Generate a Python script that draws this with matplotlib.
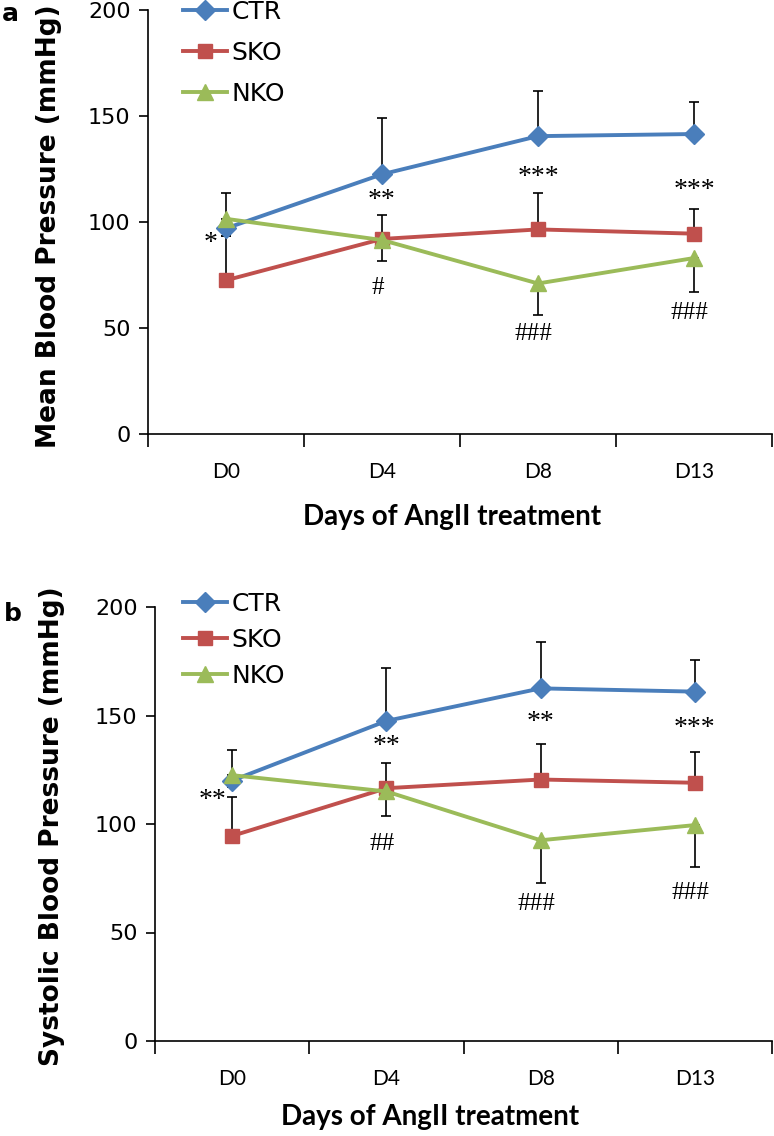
import matplotlib
matplotlib.use("Agg")
import matplotlib.pyplot as plt
from matplotlib.lines import Line2D

plt.rcParams["font.family"] = "DejaVu Sans"

# Categories on the x axis
days = ["D0", "D4", "D8", "D13"]

# Panel a: mean blood pressure (mmHg) and SEM
mean_ctr = [97, 122.5, 140.5, 141.5]
mean_ctr_err = [16.5, 26.5, 21.5, 15]
mean_sko = [72.5, 92, 96.5, 94.5]
mean_sko_err = [21, 11.5, 17, 11.5]
mean_nko = [101.5, 91.5, 71, 83]
mean_nko_err = [8, 10, 15, 16]

# Panel b: systolic blood pressure (mmHg) and SEM
sys_ctr = [120, 147.5, 162.5, 161]
sys_ctr_err = [14, 24.5, 21.5, 14.5]
sys_sko = [94.5, 116.5, 120.5, 119]
sys_sko_err = [18, 11.5, 16.5, 14]
sys_nko = [122.5, 115, 92.5, 99.5]
sys_nko_err = [5.5, 11.5, 19.5, 19.5]

# Significance marks and their y values (D0..D13 for stars, D4..D13 for hashes)
stars_a = ["*", "**", "***", "***"]
stars_a_y = [90, 110, 121, 115]
hash_a = ["#", "###", "###"]
hash_a_y = [69, 47, 57]
stars_b = ["**", "**", "**", "***"]
stars_b_y = [111, 135.5, 147, 144]
hash_b = ["##", "###", "###"]
hash_b_y = [91, 63, 68]

colours = {"CTR": "#4a7ebb", "SKO": "#c0504d", "NKO": "#9bbb59"}
markers = {"CTR": "D", "SKO": "s", "NKO": "^"}
msizes = {"CTR": 10.5, "SKO": 10, "NKO": 11.5}

fig = plt.figure(figsize=(7.74, 11.36), dpi=100)

ax_a = fig.add_axes([148 / 774, 1 - 434 / 1136, (772 - 148) / 774, 424 / 1136])
ax_b = fig.add_axes([155 / 774, 1 - 1041 / 1136, (772 - 155) / 774, 434 / 1136])


def draw_panel(ax, ctr, ctr_err, sko, sko_err, nko, nko_err, ylabel):
    x = list(range(len(days)))
    zero = [0] * len(days)

    # Error bars: CTR and SKO upward, NKO downward
    bar_kw = dict(fmt="none", ecolor="black", elinewidth=1.2,
                  capsize=3.8, capthick=1.2, zorder=2)
    ax.errorbar(x, ctr, yerr=[zero, ctr_err], **bar_kw)
    ax.errorbar(x, sko, yerr=[zero, sko_err], **bar_kw)
    ax.errorbar(x, nko, yerr=[nko_err, zero], **bar_kw)

    for name, vals in (("CTR", ctr), ("SKO", sko), ("NKO", nko)):
        ax.plot(x, vals, color=colours[name], lw=2.8, marker=markers[name],
                ms=msizes[name], mec=colours[name], zorder=3)

    ax.set_xlim(-0.5, 3.5)
    ax.set_ylim(0, 200)
    ax.set_yticks(range(0, 201, 50))
    ax.set_xticks(x)
    ax.set_xticklabels(days, family="Lato", fontsize=15)
    ax.set_xticks([i - 0.5 for i in range(len(days) + 1)], minor=True)
    ax.tick_params(axis="x", which="major", length=0, pad=20)
    ax.tick_params(axis="x", which="minor", length=9, width=1.2,
                   direction="out")
    ax.tick_params(axis="y", length=6.5, width=1.2, direction="out",
                   labelsize=16, pad=6)

    for side in ("top", "right"):
        ax.spines[side].set_visible(False)
    for side in ("left", "bottom"):
        ax.spines[side].set_linewidth(1.2)

    ax.set_ylabel(ylabel, fontsize=19, fontweight="bold")


draw_panel(ax_a, mean_ctr, mean_ctr_err, mean_sko, mean_sko_err,
           mean_nko, mean_nko_err, "Mean Blood Pressure (mmHg)")
draw_panel(ax_b, sys_ctr, sys_ctr_err, sys_sko, sys_sko_err,
           sys_nko, sys_nko_err, "Systolic Blood Pressure (mmHg)")

ax_a.yaxis.set_label_coords(-0.138, 0.49)
ax_b.yaxis.set_label_coords(-0.146, 0.495)

# x labels
fig.text(452 / 774, 1 - 517 / 1136, "Days of AngII treatment", family="Lato",
         fontweight="bold", fontsize=20, ha="center", va="center")
fig.text(430 / 774, 1 - 1117 / 1136, "Days of AngII treatment", family="Lato",
         fontweight="bold", fontsize=20, ha="center", va="center")

# Significance marks
star_kw = dict(family="Liberation Serif", fontsize=20, ha="center", va="center")
hash_kw = dict(family="Liberation Serif", fontsize=18, ha="center", va="center")
ax_a.text(-0.1, stars_a_y[0], stars_a[0], **star_kw)
for i in range(1, 4):
    ax_a.text(i, stars_a_y[i], stars_a[i], **star_kw)
for i in range(1, 4):
    ax_a.text(i - 0.03, hash_a_y[i - 1], hash_a[i - 1], **hash_kw)
ax_b.text(-0.13, stars_b_y[0], stars_b[0], **star_kw)
for i in range(1, 4):
    ax_b.text(i, stars_b_y[i], stars_b[i], **star_kw)
for i in range(1, 4):
    ax_b.text(i - 0.03, hash_b_y[i - 1], hash_b[i - 1], **hash_kw)

# Legends
handles = [Line2D([], [], color=colours[n], lw=2.8, marker=markers[n],
                  ms=msizes[n], mec=colours[n]) for n in colours]
leg_kw = dict(loc="upper left", frameon=False, fontsize=18, numpoints=1,
              handlelength=1.75, handletextpad=0.2, borderpad=0,
              borderaxespad=0, bbox_transform=fig.transFigure)
ax_a.legend(handles, list(colours), bbox_to_anchor=(183 / 774, 1 - 0 / 1136),
            labelspacing=0.68, **leg_kw)
ax_b.legend(handles, list(colours), bbox_to_anchor=(183 / 774, 1 - 592 / 1136),
            labelspacing=0.48, **leg_kw)

# Panel letters
fig.text(2 / 774, 1 - 14 / 1136, "a", fontsize=18, fontweight="bold",
         va="center", ha="left")
fig.text(4 / 774, 1 - 614 / 1136, "b", fontsize=18, fontweight="bold",
         va="center", ha="left")

fig.savefig("out.png", dpi=100)
